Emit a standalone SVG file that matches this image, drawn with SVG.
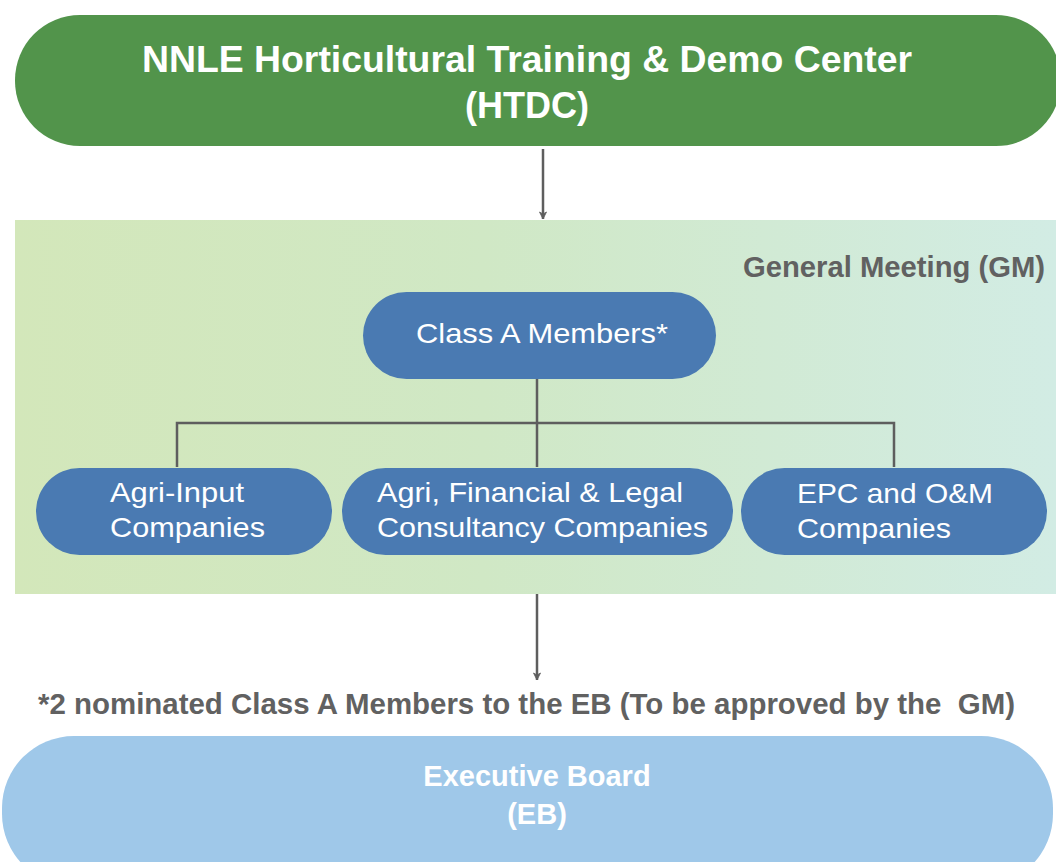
<svg xmlns="http://www.w3.org/2000/svg" width="1056" height="862" viewBox="0 0 1056 862">
<defs>
<linearGradient id="gmGrad" x1="0" y1="0" x2="1" y2="0">
<stop offset="0" stop-color="#D3E7BA"/>
<stop offset="0.45" stop-color="#D0E8C5"/>
<stop offset="1" stop-color="#D2ECE4"/>
</linearGradient>
<marker id="arr" markerWidth="9" markerHeight="9" refX="8" refY="4.5" orient="auto" markerUnits="userSpaceOnUse">
<path d="M1,1 L8,4.5 L1,8 L3,4.5 Z" fill="#5E5E5E" stroke="#5E5E5E" stroke-width="0.8" stroke-linejoin="round"/>
</marker>
</defs>
<style>
.title{font-family:"Liberation Sans",Arial,sans-serif;font-weight:bold;fill:#fff}
.node{font-family:"Liberation Sans",Arial,sans-serif;font-size:28px;fill:#fff}
.gray{font-family:"Liberation Sans",Arial,sans-serif;font-weight:bold;font-size:29px;fill:#616161}
.blue{fill:#4A7AB2}
.conn{fill:none;stroke:#5E5E5E;stroke-width:2.5}
</style>
<rect x="0" y="0" width="1056" height="862" fill="#fff"/>

<g id="htdc">
<rect x="15" y="15" width="1046" height="131" rx="65" ry="65" fill="#52944B"/>
<text class="title" font-size="36" x="527" y="72" text-anchor="middle" textLength="770" lengthAdjust="spacingAndGlyphs">NNLE Horticultural Training &amp; Demo Center</text>
<text class="title" font-size="36" x="527" y="118" text-anchor="middle">(HTDC)</text>
</g>

<g id="gm">
<rect x="15" y="220" width="1041" height="374" fill="url(#gmGrad)"/>
<text class="gray" x="1045" y="277" text-anchor="end" textLength="302" lengthAdjust="spacingAndGlyphs">General Meeting (GM)</text>
</g>

<g id="connectors">
<line class="conn" x1="543" y1="149" x2="543" y2="219" stroke-width="2" marker-end="url(#arr)"/>
<path class="conn" d="M537,379 V467 M177,467 V423 H894 V467"/>
<line class="conn" x1="537" y1="594" x2="537" y2="680" stroke-width="2" marker-end="url(#arr)"/>
</g>

<g id="classA">
<rect class="blue" x="363" y="292" width="353" height="87" rx="43.5"/>
<text class="node" x="416" y="343" textLength="252" lengthAdjust="spacingAndGlyphs">Class A Members*</text>
</g>

<g id="agriInput">
<rect class="blue" x="36" y="468" width="296" height="87" rx="43.5"/>
<text class="node" x="110" y="502" textLength="134" lengthAdjust="spacingAndGlyphs">Agri-Input</text>
<text class="node" x="110" y="537" textLength="155" lengthAdjust="spacingAndGlyphs">Companies</text>
</g>

<g id="consultancy">
<rect class="blue" x="342" y="468" width="391" height="87" rx="43.5"/>
<text class="node" x="377" y="502" textLength="306" lengthAdjust="spacingAndGlyphs">Agri, Financial &amp; Legal</text>
<text class="node" x="377" y="537" textLength="331" lengthAdjust="spacingAndGlyphs">Consultancy Companies</text>
</g>

<g id="epc">
<rect class="blue" x="741" y="468" width="306" height="87" rx="43.5"/>
<text class="node" x="797" y="503" textLength="196" lengthAdjust="spacingAndGlyphs">EPC and O&amp;M</text>
<text class="node" x="797" y="538" textLength="154" lengthAdjust="spacingAndGlyphs">Companies</text>
</g>

<g id="note">
<text class="gray" x="38" y="714" textLength="977" lengthAdjust="spacingAndGlyphs" xml:space="preserve">*2 nominated Class A Members to the EB (To be approved by the  GM)</text>
</g>

<g id="eb">
<rect x="2" y="736" width="1051" height="150" rx="72" ry="72" fill="#9FC8E9"/>
<text class="title" font-size="29" x="537" y="786" text-anchor="middle">Executive Board</text>
<text class="title" font-size="29" x="537" y="824" text-anchor="middle">(EB)</text>
</g>
</svg>
